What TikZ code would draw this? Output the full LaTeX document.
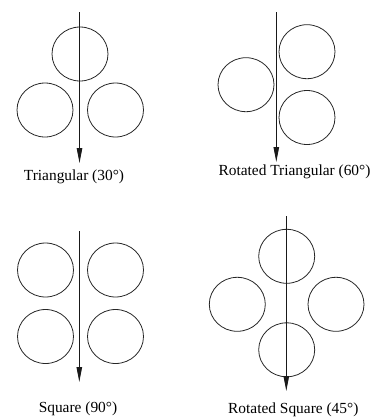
\documentclass[tikz,border=0pt]{standalone}
\usepackage{fontspec}
\setmainfont{Liberation Serif}
\usetikzlibrary{shapes.geometric,arrows.meta}
\begin{document}
\begin{tikzpicture}[x=1pt,y=-1pt,
  tube/.style={draw=black!85,line width=0.8pt,ellipse,minimum width=56pt,minimum height=54pt,inner sep=0pt},
  flow/.style={draw=black!90,line width=0.9pt,-{Triangle[width=5.5pt,length=15pt]}},
  lbl/.style={anchor=base,inner sep=0pt,font=\fontsize{15.4}{18}\selectfont}]
\useasboundingbox (0,0) rectangle (374,418);
% panel 1: triangular
\node[tube] (a1) at (80,54) {};
\node[tube] (a2) at (45,110) {};
\node[tube] (a3) at (115.5,110) {};
\coordinate (as) at (79.5,12);
\coordinate (ae) at (79.5,163);
\draw[flow] (as) -- (ae);
\node[lbl] (at) at (74,180.7) {Triangular (30°)};
% panel 2: rotated triangular
\node[tube] (b1) at (246,84.7) {};
\node[tube] (b2) at (307,51.7) {};
\node[tube] (b3) at (307,117.5) {};
\coordinate (bs) at (276.3,12);
\coordinate (be) at (276.3,162);
\draw[flow] (bs) -- (be);
\node[lbl] (bt) at (294.5,175.5) {Rotated Triangular (60°)};
% panel 3: square
\node[tube] (c1) at (45.5,270) {};
\node[tube] (c2) at (115.5,270) {};
\node[tube] (c3) at (45.5,336.5) {};
\node[tube] (c4) at (115.5,336.5) {};
\coordinate (cs) at (79.3,231);
\coordinate (ce) at (79.3,382);
\draw[flow] (cs) -- (ce);
\node[lbl] (ct) at (78,412.7) {Square (90°)};
% panel 4: rotated square
\node[tube] (d1) at (286.7,256.3) {};
\node[tube] (d2) at (237.3,304.3) {};
\node[tube] (d3) at (336,304.3) {};
\node[tube] (d4) at (286.7,349.8) {};
\coordinate (ds) at (286.3,216);
\coordinate (de) at (286.3,391);
\draw[flow] (ds) -- (de);
\node[lbl] (dt) at (293.3,413.5) {Rotated Square (45°)};
\end{tikzpicture}
\end{document}
